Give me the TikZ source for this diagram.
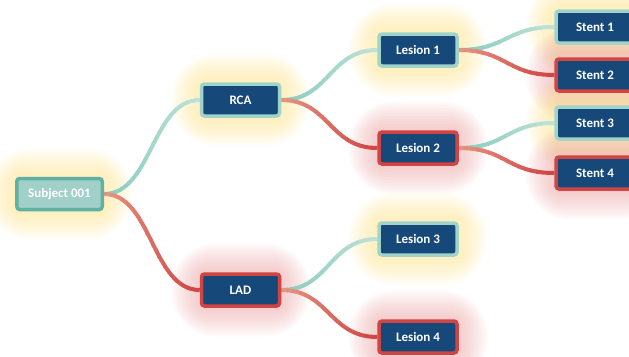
\documentclass[tikz,border=0pt]{standalone}
\usepackage{fontspec}
\setmainfont{Carlito}
\usetikzlibrary{calc}
\pgfdeclarelayer{glow}
\pgfdeclarelayer{edges}
\pgfsetlayers{glow,edges,main}
\definecolor{navy}{RGB}{22,72,122}
\definecolor{tealrim}{RGB}{160,212,203}
\definecolor{redrim}{RGB}{208,68,68}
\definecolor{subjfill}{RGB}{160,208,200}
\definecolor{subjrim}{RGB}{95,176,165}
\definecolor{glowY}{RGB}{255,225,130}
\definecolor{glowR}{RGB}{235,160,160}
\definecolor{tealA}{RGB}{135,203,188}
\definecolor{tealB}{RGB}{192,226,216}
\definecolor{redA}{RGB}{230,150,132}
\definecolor{redB}{RGB}{208,66,66}
\tikzset{
  box/.style={rectangle, rounded corners=3pt, line width=3.5pt, fill=navy, text=white,
    font=\bfseries\fontsize{13}{15}\selectfont, minimum width=78pt, minimum height=32pt, inner sep=0pt},
  tbox/.style={box, draw=tealrim},
  rbox/.style={box, draw=redrim},
  subjbox/.style={box, draw=subjrim, fill=subjfill, minimum width=85.5pt, minimum height=31pt},
  edgeline/.style={line width=4pt}
}
\newcommand\glowat[2]{%
  \foreach \k in {1,...,18}{%
    \pgfmathsetmacro\rr{5+\k*2.2}%
    \pgfmathsetmacro\dd{\k*1.6}%
    \fill[#2, opacity=0.038, rounded corners=\rr pt]
      ($(#1.south west)+(-\dd pt,-\dd pt)$) rectangle ($(#1.north east)+(\dd pt,\dd pt)$);
  }}
\newcommand\gedge[4]{%
  \foreach \i in {0,...,15}{%
    \pgfmathtruncatemacro\pct{100-(\i+0.5)*100/16}%
    \colorlet{tmpc}{#3!\pct!#4}%
    \begin{scope}
      \clip let \p1=(#1.east),\p2=(#2.west),
        \n1={\x1+(\x2-\x1)*\i/16-0.4pt},\n2={\x1+(\x2-\x1)*(\i+1)/16+0.4pt} in
        (\n1,100pt) rectangle (\n2,-500pt);
      \draw[edgeline, tmpc] let \p1=(#1.east),\p2=(#2.west) in
        (\p1) .. controls (\x1/2+\x2/2,\y1) and (\x1/2+\x2/2,\y2) .. (\p2);
    \end{scope}
  }}
\begin{document}
\begin{tikzpicture}[x=1pt,y=-1pt]
\useasboundingbox (0,0) rectangle (629,356);
\node[subjbox] (subj) at (59.5,194) {Subject 001};
\node[tbox] (rca) at (240.5,100) {RCA};
\node[rbox] (lad) at (240.5,290) {LAD};
\node[tbox] (l1) at (418,50) {Lesion 1};
\node[rbox] (l2) at (418,148) {Lesion 2};
\node[tbox] (l3) at (418,239) {Lesion 3};
\node[rbox] (l4) at (418,337) {Lesion 4};
\node[tbox] (s1) at (595,27) {Stent 1};
\node[rbox] (s2) at (595,75) {Stent 2};
\node[tbox] (s3) at (595,123) {Stent 3};
\node[rbox] (s4) at (595,173) {Stent 4};
\begin{pgfonlayer}{glow}
\glowat{subj}{glowY}
\glowat{rca}{glowY}
\glowat{lad}{glowR}
\glowat{l1}{glowY}
\glowat{l2}{glowR}
\glowat{l3}{glowY}
\glowat{l4}{glowR}
\glowat{s1}{glowY}
\glowat{s2}{glowR}
\glowat{s3}{glowY}
\glowat{s4}{glowR}
\end{pgfonlayer}
\begin{pgfonlayer}{edges}
\gedge{subj}{rca}{tealA}{tealB}
\gedge{subj}{lad}{redA}{redB}
\gedge{rca}{l1}{tealA}{tealB}
\gedge{rca}{l2}{redA}{redB}
\gedge{lad}{l3}{tealA}{tealB}
\gedge{lad}{l4}{redA}{redB}
\gedge{l1}{s1}{tealA}{tealB}
\gedge{l1}{s2}{redA}{redB}
\gedge{l2}{s3}{tealA}{tealB}
\gedge{l2}{s4}{redA}{redB}
\end{pgfonlayer}
\end{tikzpicture}
\end{document}
